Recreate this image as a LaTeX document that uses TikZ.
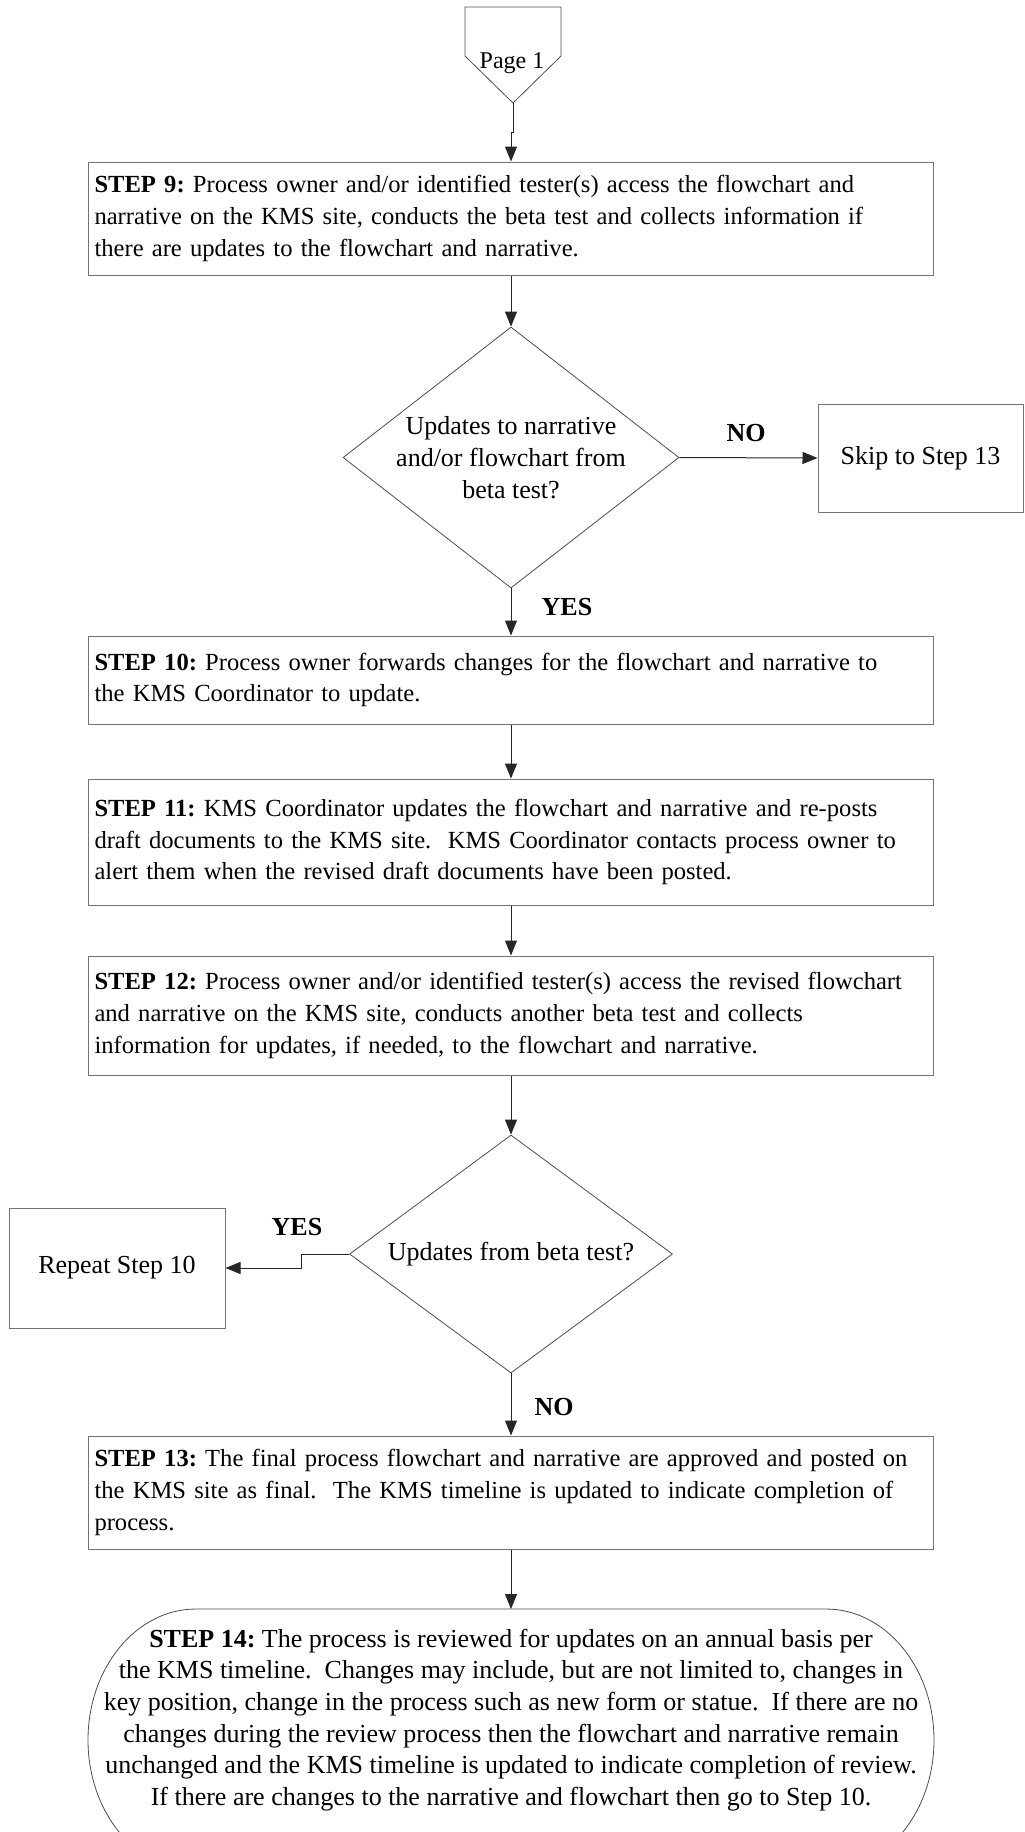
\documentclass[tikz,border=0pt]{standalone}
\usepackage{fontspec}
\setmainfont{Liberation Serif}
\usepackage{xcolor}
\usepackage{tikz}
\usetikzlibrary{shapes,arrows,positioning,calc,arrows.meta}

\newcommand{\stepfont}{\fontsize{12.3pt}{15.85pt}\selectfont\frenchspacing}
\newcommand{\bigfont}{\fontsize{13pt}{15.85pt}\selectfont\frenchspacing}

\tikzset{
    stepbox/.style={draw=black!55, line width=0.5pt, text width=416.5pt, inner xsep=3pt, align=left, font=\stepfont},
    decision/.style={diamond, aspect=1.3, draw=black!70, line width=0.4pt, inner sep=0pt, align=center, font=\bigfont},
    sidebox/.style={draw=black!55, line width=0.5pt, inner sep=0pt, align=center, font=\bigfont},
    answer/.style={font=\bigfont\bfseries},
    flow/.style={draw=black!85, line width=0.5pt, -{Triangle[length=7.5pt,width=6pt]}}
}

\begin{document}
\begin{tikzpicture}[x=0.5pt, y=-0.5pt]
    \useasboundingbox (0,0) rectangle (1024,1832);

    % off-page connector
    \draw[draw=black!70, line width=0.4pt] (465,7) -- (561,7) -- (561,56) -- (513,103) -- (465,56) -- cycle;
    \node[font=\fontsize{12pt}{14pt}\selectfont, anchor=base] (page1) at (512,68) {Page 1};
    \coordinate (ptip) at (513,103);

    \node[stepbox, minimum height=56.5pt] (s9) at (511,218.5) {\textbf{STEP 9:} Process owner and/or identified tester(s) access the flowchart and\\narrative on the KMS site, conducts the beta test and collects information if\\there are updates to the flowchart and narrative.};

    \node[decision, minimum width=167.5pt, minimum height=130.5pt] (d1) at (511,457.5) {Updates to narrative\\and/or flowchart from\\beta test?};
    \node[sidebox, minimum width=102.5pt, minimum height=54pt] (skip) at (920.5,458) {Skip to Step 13};
    \node[answer] (no1) at (746,433) {NO};
    \node[answer] (yes1) at (567,607) {YES};

    \node[stepbox, minimum height=44pt] (s10) at (511,680) {\textbf{STEP 10:} Process owner forwards changes for the flowchart and narrative to\\the KMS Coordinator to update.};
    \node[stepbox, minimum height=63pt] (s11) at (511,842) {\textbf{STEP 11:} KMS Coordinator updates the flowchart and narrative and re-posts\\draft documents to the KMS site.\ \ KMS Coordinator contacts process owner to\\alert them when the revised draft documents have been posted.};
    \node[stepbox, minimum height=59.5pt] (s12) at (511,1015.5) {\textbf{STEP 12:} Process owner and/or identified tester(s) access the revised flowchart\\and narrative on the KMS site, conducts another beta test and collects\\information for updates, if needed, to the flowchart and narrative.};

    \node[decision, minimum width=161.5pt, minimum height=119pt] (d2) at (511,1254) {Updates from beta test?};
    \node[sidebox, minimum width=108pt, minimum height=60pt] (rep) at (117,1268) {Repeat Step 10};
    \node[answer] (yes2) at (297,1227) {YES};
    \node[answer] (no2) at (554,1407) {NO};

    \node[stepbox, minimum height=56.5pt] (s13) at (511,1492.5) {\textbf{STEP 13:} The final process flowchart and narrative are approved and posted on\\the KMS site as final.\ \ The KMS timeline is updated to indicate completion of\\process.};

    % terminator with elliptic ends, cut by the page edge
    \draw[draw=black!70, line width=0.4pt] (196,1609) -- (826,1609) arc[start angle=-90, end angle=90, x radius=108, y radius=131] -- (196,1871) arc[start angle=90, end angle=270, x radius=108, y radius=131] -- cycle;
    \coordinate (s14top) at (511,1609);
    \node[align=center, font=\bigfont] (s14) at (511,1720) {\textbf{STEP 14:} The process is reviewed for updates on an annual basis per\\the KMS timeline.\ \ Changes may include, but are not limited to, changes in\\key position, change in the process such as new form or statue.\ \ If there are no\\changes during the review process then the flowchart and narrative remain\\unchanged and the KMS timeline is updated to indicate completion of review.\\If there are changes to the narrative and flowchart then go to Step 10.};

    \draw[flow] (ptip) -- ++(0,29) -| (s9.north);
    \draw[flow] (s9.south) -- (d1.north);
    \draw[flow] (d1.east) -- (skip.west);
    \draw[flow] (d1.south) -- (s10.north);
    \draw[flow] (s10.south) -- (s11.north);
    \draw[flow] (s11.south) -- (s12.north);
    \draw[flow] (s12.south) -- (d2.north);
    \draw[flow] (d2.west) -- ++(-48,0) |- (rep.east);
    \draw[flow] (d2.south) -- (s13.north);
    \draw[flow] (s13.south) -- (s14top);
\end{tikzpicture}
\end{document}
